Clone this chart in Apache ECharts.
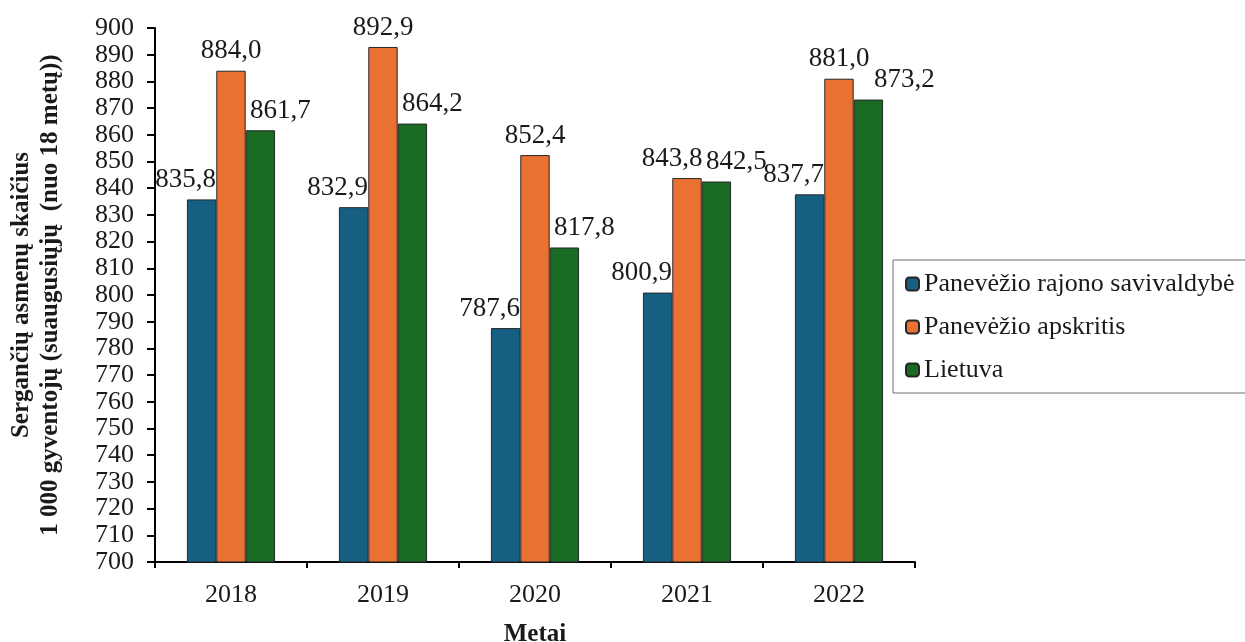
<!DOCTYPE html>
<html>
<head>
<meta charset="utf-8">
<script src="https://cdn.jsdelivr.net/npm/echarts@6/dist/echarts.min.js"></script>
<style>
  html, body { margin: 0; padding: 0; background: #fff; }
  #chart { width: 1245px; height: 642px; }
</style>
</head>
<body>
<div id="chart"></div>
<script>
// duomenys
const years = ['2018', '2019', '2020', '2021', '2022']
const rajonas = [835.8, 832.9, 787.6, 800.9, 837.7]
const apskritis = [884.0, 892.9, 852.4, 843.8, 881.0]
const lietuva = [861.7, 864.2, 817.8, 842.5, 873.2]
const seriesNames = ['Panevėžio rajono savivaldybė', 'Panevėžio apskritis', 'Lietuva']

const FONT = '"Liberation Serif", "DejaVu Serif", serif'
const fmt = p => p.value.toFixed(1).replace('.', ',')

// etikečių poslinkiai, kad nesusiliestų (kaip Excel'yje)
const labelShift = { '1-3': -15, '2-4': 36 }

const chart = echarts.init(document.getElementById('chart'))

function bar(idx, data, color, offsetX) {
  return {
    name: seriesNames[idx],
    type: 'bar',
    data: data.map((v, i) => {
      const s = labelShift[idx + '-' + i]
      return s === undefined ? v : { value: v, label: { offset: [s, 0] } }
    }),
    barGap: '0%',
    barCategoryGap: '42%',
    itemStyle: { color: color, borderColor: '#262626', borderWidth: 1 },
    label: {
      show: true,
      position: 'top',
      distance: 6,
      offset: [offsetX, 0],
      formatter: fmt,
      fontFamily: FONT,
      fontSize: 27,
      color: '#1a1a1a'
    }
  }
}

chart.setOption({
  animation: false,
  textStyle: { fontFamily: FONT },
  grid: { left: 155, right: 330, top: 28, bottom: 80, outerBoundsMode: 'none', containLabel: false },
  legend: {
    orient: 'vertical',
    left: 893,
    top: 260,
    padding: [11, 14, 10, 12],
    itemGap: 17,
    itemWidth: 13,
    itemHeight: 13,
    borderColor: '#6e6e6e',
    borderWidth: 1,
    textStyle: { fontFamily: FONT, fontSize: 26, color: '#1a1a1a' },
    data: seriesNames
  },
  xAxis: {
    type: 'category',
    data: years,
    name: 'Metai',
    nameLocation: 'middle',
    nameGap: 60,
    nameTextStyle: { fontFamily: FONT, fontSize: 25, fontWeight: 'bold', color: '#1a1a1a' },
    axisLine: { lineStyle: { color: '#000', width: 2 } },
    axisTick: { show: true, length: 6, lineStyle: { color: '#000', width: 2 } },
    axisLabel: { fontFamily: FONT, fontSize: 26, color: '#1a1a1a', margin: 20 }
  },
  yAxis: {
    type: 'value',
    min: 700,
    max: 900,
    interval: 10,
    name: 'Sergančių asmenų skaičius\n1 000 gyventojų (suaugusiųjų  (nuo 18 metų))',
    nameLocation: 'middle',
    nameRotate: 90,
    nameGap: 90,
    nameTextStyle: { fontFamily: FONT, fontSize: 25, fontWeight: 'bold', color: '#1a1a1a', lineHeight: 29 },
    axisLine: { show: true, lineStyle: { color: '#000', width: 2 } },
    axisTick: { show: true, length: 8, lineStyle: { color: '#000', width: 2 } },
    axisLabel: { fontFamily: FONT, fontSize: 26, color: '#1a1a1a', margin: 21 },
    splitLine: { show: false }
  },
  series: [
    bar(0, rajonas, '#156082', -16),
    bar(1, apskritis, '#e97132', 0),
    bar(2, lietuva, '#196b24', 20)
  ]
})
</script>
</body>
</html>
